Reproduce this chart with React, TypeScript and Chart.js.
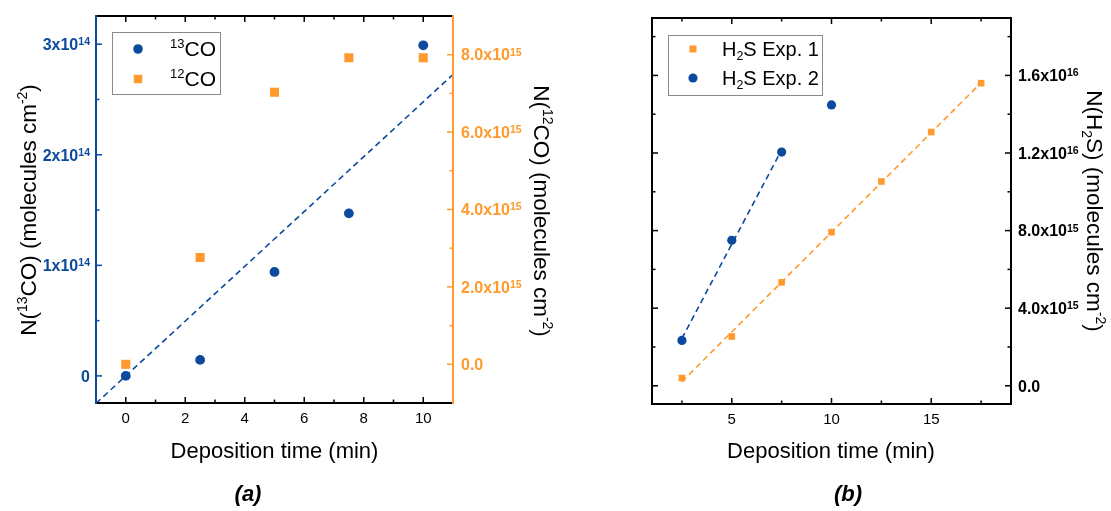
import React, { useEffect, useRef } from "react";
import { Chart, registerables } from "chart.js";
Chart.register(...registerables);

const BLUE = "#0B4A9C";
const ORANGE = "#FF9A2E";
const FONT = "'Liberation Sans', Arial, sans-serif";

// ---------- Panel (a) data ----------
const timeA = [0, 2.5, 5, 7.5, 10];
const co13 = [0, 0.145e14, 0.94e14, 1.47e14, 2.99e14];
const co12 = [0, 2.76e15, 7.03e15, 7.92e15, 7.92e15];
const fitAX = [-1, 11];
const fitAY = [-0.248e14, 2.726e14];
const xTicksA = [0, 2, 4, 6, 8, 10];
const xMinorA = [1, 3, 5, 7, 9];
const yTicksA = [0, 1e14, 2e14, 3e14];
const yLabelsA = [["0", ""], ["1x10", "14"], ["2x10", "14"], ["3x10", "14"]];
const yMinorA = [0.5e14, 1.5e14, 2.5e14];
const y2TicksA = [0, 2e15, 4e15, 6e15, 8e15];
const y2LabelsA = [["0.0", ""], ["2.0x10", "15"], ["4.0x10", "15"], ["6.0x10", "15"], ["8.0x10", "15"]];
const y2MinorA = [1e15, 3e15, 5e15, 7e15];

// ---------- Panel (b) data ----------
const timeB1 = [2.5, 5, 7.5, 10, 12.5, 15, 17.5];
const h2sExp1 = [0.4e15, 2.54e15, 5.33e15, 7.92e15, 10.53e15, 13.08e15, 15.6e15];
const timeB2 = [2.5, 5, 7.5, 10];
const h2sExp2 = [2.34e15, 7.5e15, 12.05e15, 14.48e15];
const fitB1X = [2.5, 17.5];
const fitB1Y = [0.21e15, 15.62e15];
const fitB2X = [2.5, 7.5];
const fitB2Y = [2.44e15, 12.16e15];
const xTicksB = [5, 10, 15];
const xMinorB = [2.5, 7.5, 12.5, 17.5];
const yTicksB = [0, 4e15, 8e15, 1.2e16, 1.6e16];
const yLabelsB = [["0.0", ""], ["4.0x10", "15"], ["8.0x10", "15"], ["1.2x10", "16"], ["1.6x10", "16"]];
const yMinorB = [2e15, 6e15, 1e16, 1.4e16, 1.8e16];

type Seg = { t: string; s?: "sup" | "sub" };
type RichOpts = {
  rot?: number;
  align?: "left" | "center" | "right";
  style?: string;
  color?: string;
  supScale?: number;
  supDy?: number;
  base?: number;
};

function segFont(size: number, s: string | undefined, style: string, sc: number) {
  const sz = s ? size * sc : size;
  return `${style} ${sz}px ${FONT}`;
}
function drawRich(ctx: CanvasRenderingContext2D, segs: Seg[], cx: number, cy: number, size: number, opts: RichOpts) {
  const style = opts.style || "";
  const sc = opts.supScale ?? 0.62;
  const supDy = opts.supDy ?? 0.4;
  ctx.save();
  ctx.translate(cx, cy);
  ctx.rotate(opts.rot || 0);
  let w = 0;
  for (const seg of segs) {
    ctx.font = segFont(size, seg.s, style, sc);
    w += ctx.measureText(seg.t).width;
  }
  let x = opts.align === "left" ? 0 : opts.align === "right" ? -w : -w / 2;
  ctx.fillStyle = opts.color || "#000";
  ctx.textAlign = "left";
  ctx.textBaseline = "alphabetic";
  const base = size * (opts.base ?? 0.34);
  for (const seg of segs) {
    ctx.font = segFont(size, seg.s, style, sc);
    const dy = seg.s === "sup" ? -size * supDy : seg.s === "sub" ? size * 0.22 : 0;
    ctx.fillText(seg.t, x, base + dy);
    x += ctx.measureText(seg.t).width;
  }
  ctx.restore();
}

type SideCfg = { scale: string; major: number[]; minor: number[]; color: string; labels?: string[][]; pad?: number };
type FrameCfg = { top: SideCfg; bottom: SideCfg; left: SideCfg; right: SideCfg };

function framePlugin(cfg: FrameCfg) {
  return {
    id: "frameTicks",
    afterDatasetsDraw(chart: any) {
      const ctx: CanvasRenderingContext2D = chart.ctx;
      const a = chart.chartArea;
      const MAJ = 6;
      const MIN = 3.5;
      ctx.save();
      ctx.lineWidth = 1.5;
      const horiz = (side: SideCfg, y: number, dir: number) => {
        const sc = chart.scales[side.scale];
        ctx.strokeStyle = side.color;
        const draw = (vals: number[], len: number) => {
          for (const v of vals) {
            const px = sc.getPixelForValue(v);
            ctx.beginPath();
            ctx.moveTo(px, y);
            ctx.lineTo(px, y + dir * len);
            ctx.stroke();
          }
        };
        draw(side.major, MAJ);
        draw(side.minor, MIN);
      };
      const vert = (side: SideCfg, x: number, dir: number) => {
        const sc = chart.scales[side.scale];
        ctx.strokeStyle = side.color;
        const draw = (vals: number[], len: number) => {
          for (const v of vals) {
            const py = sc.getPixelForValue(v);
            ctx.beginPath();
            ctx.moveTo(x, py);
            ctx.lineTo(x + dir * len, py);
            ctx.stroke();
          }
        };
        draw(side.major, MAJ);
        draw(side.minor, MIN);
        if (side.labels) {
          side.major.forEach((v, i) => {
            const lab = side.labels![i];
            const py = sc.getPixelForValue(v);
            const segs: Seg[] = [{ t: lab[0] }];
            if (lab[1]) segs.push({ t: lab[1], s: "sup" });
            const lx = dir > 0 ? x - (side.pad || 6) : x + (side.pad || 7);
            drawRich(ctx, segs, lx, py, 16, {
              align: dir > 0 ? "right" : "left",
              style: "bold",
              color: side.color,
              supScale: 0.66,
              supDy: 0.3,
              base: 0.36,
            });
          });
        }
      };
      horiz(cfg.bottom, a.bottom, -1);
      horiz(cfg.top, a.top, 1);
      vert(cfg.left, a.left, 1);
      vert(cfg.right, a.right, -1);
      ctx.lineWidth = 2;
      ctx.lineCap = "square";
      const line = (x1: number, y1: number, x2: number, y2: number, c: string) => {
        ctx.strokeStyle = c;
        ctx.beginPath();
        ctx.moveTo(x1, y1);
        ctx.lineTo(x2, y2);
        ctx.stroke();
      };
      line(a.left, a.top, a.right, a.top, cfg.top.color);
      line(a.left, a.bottom, a.right, a.bottom, cfg.bottom.color);
      line(a.left, a.top, a.left, a.bottom, cfg.left.color);
      line(a.right, a.top, a.right, a.bottom, cfg.right.color);
      ctx.restore();
    },
  };
}

type LegendItem = { marker: "circle" | "rect"; color: string; size: number; x: number; y: number; textX: number; segs: Seg[] };
type OverlayCfg = {
  titles: { segs: Seg[]; cx: number; cy: number; rot: number; size: number; style?: string }[];
  legendBox: [number, number, number, number];
  legendItems: LegendItem[];
  legendSize: number;
};

function overlayPlugin(cfg: OverlayCfg) {
  return {
    id: "overlayText",
    afterDraw(chart: any) {
      const ctx: CanvasRenderingContext2D = chart.ctx;
      ctx.save();
      for (const t of cfg.titles) {
        drawRich(ctx, t.segs, t.cx, t.cy, t.size, { rot: t.rot, style: t.style });
      }
      const [bx, by, bw, bh] = cfg.legendBox;
      ctx.fillStyle = "#fff";
      ctx.fillRect(bx, by, bw, bh);
      ctx.strokeStyle = "#8a8a8a";
      ctx.lineWidth = 1;
      ctx.strokeRect(Math.round(bx) + 0.5, Math.round(by) + 0.5, Math.round(bw), Math.round(bh));
      for (const it of cfg.legendItems) {
        ctx.fillStyle = it.color;
        if (it.marker === "circle") {
          ctx.beginPath();
          ctx.arc(it.x, it.y, it.size, 0, Math.PI * 2);
          ctx.fill();
        } else {
          ctx.fillRect(it.x - it.size / 2, it.y - it.size / 2, it.size, it.size);
        }
        drawRich(ctx, it.segs, it.textX, it.y, cfg.legendSize, { align: "left" });
      }
      ctx.restore();
    },
  };
}

const tickFont = { size: 15, family: FONT };

function setTicks(vals: number[]) {
  return (s: any) => {
    s.ticks = vals.map((v) => ({ value: v }));
  };
}

function buildA(): any {
  return {
    type: "scatter",
    data: {
      datasets: [
        {
          label: "13CO",
          data: timeA.map((x, i) => ({ x, y: co13[i] })),
          yAxisID: "y",
          pointStyle: "circle",
          pointRadius: 4.9,
          backgroundColor: BLUE,
          borderWidth: 0,
        },
        {
          label: "12CO",
          data: timeA.map((x, i) => ({ x, y: co12[i] })),
          yAxisID: "y2",
          pointStyle: "rect",
          pointRadius: 6.4,
          backgroundColor: ORANGE,
          borderWidth: 0,
        },
        {
          label: "fit",
          data: fitAX.map((x, i) => ({ x, y: fitAY[i] })),
          yAxisID: "y",
          showLine: true,
          pointRadius: 0,
          borderColor: BLUE,
          borderWidth: 1.6,
          borderDash: [6, 4],
          fill: false,
        },
      ],
    },
    options: {
      animation: false,
      responsive: false,
      events: [],
      layout: { padding: { top: 16, left: 0, right: 0, bottom: 0 } },
      plugins: { legend: { display: false }, tooltip: { enabled: false } },
      scales: {
        x: {
          type: "linear",
          min: -1,
          max: 11,
          grid: { display: false, drawTicks: false },
          border: { display: false },
          afterBuildTicks: setTicks(xTicksA),
          afterFit: (s: any) => {
            s.height = 511 - 403;
          },
          ticks: { padding: 7, color: "#000", font: tickFont, maxRotation: 0, autoSkip: false, callback: (v: any) => String(v) },
        },
        y: {
          type: "linear",
          position: "left",
          min: -0.245e14,
          max: 3.255e14,
          grid: { display: false, drawTicks: false },
          border: { display: false },
          afterBuildTicks: setTicks(yTicksA),
          afterFit: (s: any) => {
            s.width = 96;
          },
          ticks: { display: false },
        },
        y2: {
          type: "linear",
          position: "right",
          min: -1e15,
          max: 9e15,
          grid: { display: false, drawTicks: false },
          border: { display: false },
          afterBuildTicks: setTicks(y2TicksA),
          afterFit: (s: any) => {
            s.width = 560 - 453;
          },
          ticks: { display: false },
        },
      },
    },
    plugins: [
      framePlugin({
        top: { scale: "x", major: xTicksA, minor: xMinorA, color: "#000" },
        bottom: { scale: "x", major: xTicksA, minor: xMinorA, color: "#000" },
        left: { scale: "y", major: yTicksA, minor: yMinorA, color: BLUE, labels: yLabelsA, pad: 6 },
        right: { scale: "y2", major: y2TicksA, minor: y2MinorA, color: ORANGE, labels: y2LabelsA, pad: 8 },
      }),
      overlayPlugin({
        titles: [
          {
            segs: [{ t: "N(" }, { t: "13", s: "sup" }, { t: "CO) (molecules cm" }, { t: "-2", s: "sup" }, { t: ")" }],
            cx: 28,
            cy: 210,
            rot: -Math.PI / 2,
            size: 22.5,
          },
          {
            segs: [{ t: "N(" }, { t: "12", s: "sup" }, { t: "CO) (molecules cm" }, { t: "-2", s: "sup" }, { t: ")" }],
            cx: 542,
            cy: 211,
            rot: Math.PI / 2,
            size: 22.5,
          },
          { segs: [{ t: "Deposition time (min)" }], cx: 274.5, cy: 451, rot: 0, size: 22 },
          { segs: [{ t: "(a)" }], cx: 248, cy: 494, rot: 0, size: 22, style: "italic bold" },
        ],
        legendBox: [112, 32, 108, 62],
        legendSize: 21,
        legendItems: [
          { marker: "circle", color: BLUE, size: 4.8, x: 138, y: 49, textX: 170, segs: [{ t: "13", s: "sup" }, { t: "CO" }] },
          { marker: "rect", color: ORANGE, size: 8.5, x: 138, y: 79, textX: 170, segs: [{ t: "12", s: "sup" }, { t: "CO" }] },
        ],
      }),
    ],
  };
}

const OFFB = 560;

function buildB(): any {
  return {
    type: "scatter",
    data: {
      datasets: [
        {
          label: "H2S Exp. 2",
          data: timeB2.map((x, i) => ({ x, y: h2sExp2[i] })),
          pointStyle: "circle",
          pointRadius: 4.6,
          backgroundColor: BLUE,
          borderWidth: 0,
        },
        {
          label: "H2S Exp. 1",
          data: timeB1.map((x, i) => ({ x, y: h2sExp1[i] })),
          pointStyle: "rect",
          pointRadius: 4.7,
          backgroundColor: ORANGE,
          borderWidth: 0,
        },
        {
          label: "fit 2",
          data: fitB2X.map((x, i) => ({ x, y: fitB2Y[i] })),
          showLine: true,
          pointRadius: 0,
          borderColor: BLUE,
          borderWidth: 1.6,
          borderDash: [6, 4],
          fill: false,
        },
        {
          label: "fit 1",
          data: fitB1X.map((x, i) => ({ x, y: fitB1Y[i] })),
          showLine: true,
          pointRadius: 0,
          borderColor: ORANGE,
          borderWidth: 1.6,
          borderDash: [6, 4],
          fill: false,
        },
      ],
    },
    options: {
      animation: false,
      responsive: false,
      events: [],
      layout: { padding: { top: 18, left: 652 - OFFB, right: 0, bottom: 0 } },
      plugins: { legend: { display: false }, tooltip: { enabled: false } },
      scales: {
        x: {
          type: "linear",
          min: 1,
          max: 19,
          grid: { display: false, drawTicks: false },
          border: { display: false },
          afterBuildTicks: setTicks(xTicksB),
          afterFit: (s: any) => {
            s.height = 511 - 404;
          },
          ticks: { padding: 7, color: "#000", font: tickFont, maxRotation: 0, autoSkip: false, callback: (v: any) => String(v) },
        },
        y: {
          type: "linear",
          position: "right",
          min: -0.94e15,
          max: 1.896e16,
          grid: { display: false, drawTicks: false },
          border: { display: false },
          afterBuildTicks: setTicks(yTicksB),
          afterFit: (s: any) => {
            s.width = 551 - (1011 - OFFB);
          },
          ticks: { display: false },
        },
      },
    },
    plugins: [
      framePlugin({
        top: { scale: "x", major: xTicksB, minor: xMinorB, color: "#000" },
        bottom: { scale: "x", major: xTicksB, minor: xMinorB, color: "#000" },
        left: { scale: "y", major: yTicksB, minor: yMinorB, color: "#000" },
        right: { scale: "y", major: yTicksB, minor: yMinorB, color: "#000", labels: yLabelsB, pad: 7 },
      }),
      overlayPlugin({
        titles: [
          {
            segs: [{ t: "N(H" }, { t: "2", s: "sub" }, { t: "S) (molecules cm" }, { t: "-2", s: "sup" }, { t: ")" }],
            cx: 1095 - OFFB,
            cy: 211,
            rot: Math.PI / 2,
            size: 22.5,
          },
          { segs: [{ t: "Deposition time (min)" }], cx: 831 - OFFB, cy: 451, rot: 0, size: 22 },
          { segs: [{ t: "(b)" }], cx: 848 - OFFB, cy: 494, rot: 0, size: 22, style: "italic bold" },
        ],
        legendBox: [668 - OFFB, 35, 154, 60],
        legendSize: 20,
        legendItems: [
          { marker: "rect", color: ORANGE, size: 7, x: 693 - OFFB, y: 49, textX: 722 - OFFB, segs: [{ t: "H" }, { t: "2", s: "sub" }, { t: "S Exp. 1" }] },
          { marker: "circle", color: BLUE, size: 4.6, x: 693 - OFFB, y: 78, textX: 722 - OFFB, segs: [{ t: "H" }, { t: "2", s: "sub" }, { t: "S Exp. 2" }] },
        ],
      }),
    ],
  };
}

function Panel({ left, width, build }: { left: number; width: number; build: () => any }) {
  const ref = useRef<HTMLCanvasElement>(null);
  useEffect(() => {
    const chart = new Chart(ref.current as HTMLCanvasElement, build());
    return () => chart.destroy();
  }, []);
  return (
    <canvas
      ref={ref}
      width={width}
      height={511}
      style={{ position: "absolute", left, top: 0, width, height: 511, display: "block" }}
    />
  );
}

export default function App() {
  return (
    <div style={{ position: "fixed", left: 0, top: 0, width: 1111, height: 511, background: "#fff", overflow: "hidden" }}>
      <Panel left={0} width={560} build={buildA} />
      <Panel left={OFFB} width={551} build={buildB} />
    </div>
  );
}
